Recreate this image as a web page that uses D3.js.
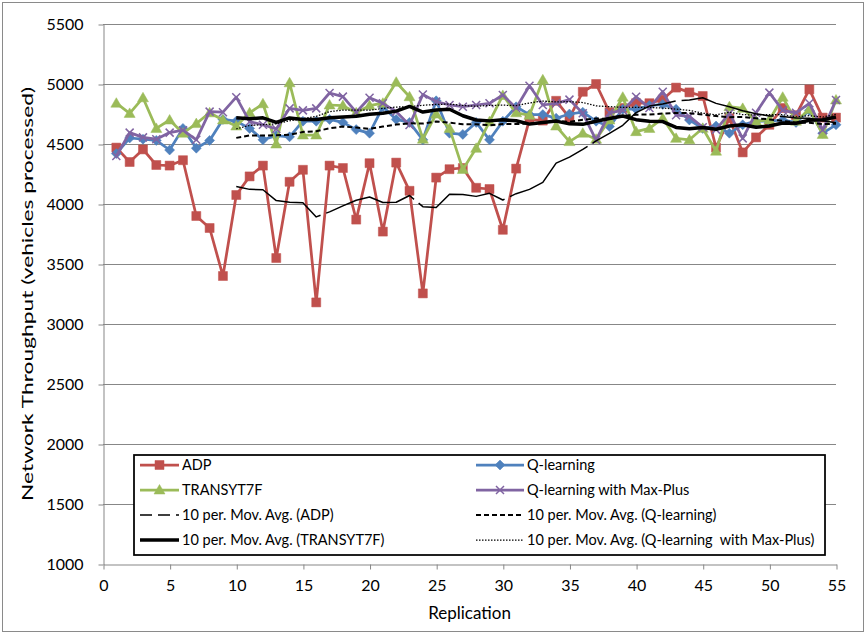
<!DOCTYPE html>
<html>
<head>
<meta charset="utf-8">
<script src="https://cdn.jsdelivr.net/npm/d3@7"></script>
<style>
    body { margin: 0; background: #fff; }
    text { font-family: Lato, "Open Sans", sans-serif; fill: #000; }
</style>
</head>
<body>
<div class="chart"></div>
<script>
// replication number on the x axis
const replication = [1, 2, 3, 4, 5, 6, 7, 8, 9, 10, 11, 12, 13, 14, 15, 16, 17, 18, 19, 20,
    21, 22, 23, 24, 25, 26, 27, 28, 29, 30, 31, 32, 33, 34, 35, 36, 37, 38, 39, 40,
    41, 42, 43, 44, 45, 46, 47, 48, 49, 50, 51, 52, 53, 54, 55]

const adp = [4470, 4350, 4455, 4325, 4320, 4365, 3900, 3800, 3400, 4075,
    4230, 4320, 3550, 4185, 4285, 3180, 4320, 4300, 3870, 4340,
    3770, 4345, 4110, 3255, 4220, 4290, 4300, 4135, 4125, 3785,
    4295, 4705, 4695, 4860, 4720, 4935, 5000, 4765, 4800, 4840,
    4840, 4870, 4970, 4930, 4900, 4470, 4715, 4430, 4555, 4660,
    4800, 4740, 4955, 4720, 4720]

const qLearning = [4420, 4550, 4540, 4530, 4450, 4630, 4465, 4530, 4705, 4690,
    4630, 4535, 4570, 4560, 4690, 4690, 4705, 4680, 4620, 4590,
    4810, 4705, 4680, 4535, 4860, 4590, 4580, 4680, 4535, 4690,
    4810, 4745, 4745, 4715, 4750, 4765, 4690, 4645, 4790, 4790,
    4820, 4830, 4790, 4700, 4630, 4650, 4590, 4660, 4690, 4690,
    4700, 4680, 4780, 4590, 4660]

const transyt = [4840, 4755, 4885, 4630, 4700, 4590, 4670, 4760, 4700, 4650,
    4760, 4835, 4500, 5010, 4575, 4575, 4825, 4820, 4760, 4820,
    4840, 5015, 4894, 4540, 4750, 4630, 4288, 4464, 4686, 4905,
    4760, 4740, 5035, 4650, 4520, 4590, 4540, 4700, 4890, 4603,
    4630, 4714, 4547, 4535, 4631, 4440, 4811, 4797, 4690, 4700,
    4890, 4690, 4790, 4580, 4867]

const maxPlus = [4400, 4595, 4555, 4540, 4595, 4615, 4535, 4770, 4765, 4890,
    4686, 4660, 4625, 4797, 4780, 4797, 4925, 4895, 4765, 4885,
    4839, 4770, 4658, 4912, 4853, 4825, 4811, 4825, 4839, 4908,
    4800, 4985, 4825, 4839, 4870, 4756, 4533, 4760, 4780, 4894,
    4800, 4936, 4740, 4730, 4640, 4620, 4756, 4547, 4760, 4928,
    4780, 4760, 4839, 4617, 4867]

const xTicks = [0, 5, 10, 15, 20, 25, 30, 35, 40, 45, 50, 55]
const yTicks = [1000, 1500, 2000, 2500, 3000, 3500, 4000, 4500, 5000, 5500]

const seriesNames = ['ADP', 'Q-learning', 'TRANSYT7F', 'Q-learning with Max-Plus']
const maNames = ['10 per. Mov. Avg. (ADP)', '10 per. Mov. Avg. (Q-learning)',
    '10 per. Mov. Avg. (TRANSYT7F)', '10 per. Mov. Avg. (Q-learning  with Max-Plus)']

var W = 866, H = 634
var plot = { left: 103, right: 836, top: 24, bottom: 564 }

let svg = d3.select('.chart')
    .append('svg')
    .attr('width', W)
    .attr('height', H)

// chart area frame
svg.append('rect')
    .attr('x', 2.5).attr('y', 2.5)
    .attr('width', W - 5).attr('height', H - 5)
    .attr('fill', '#fff')
    .attr('stroke', '#8a8a8a')

var xScale = d3.scaleLinear().domain([0, 55]).range([plot.left, plot.right])
var yScale = d3.scaleLinear().domain([1000, 5500]).range([plot.bottom, plot.top])

// gridlines
svg.append('g')
    .selectAll('line')
    .data(yTicks.slice(1))
    .enter()
    .append('line')
    .attr('x1', plot.left).attr('x2', plot.right)
    .attr('y1', d => yScale(d) + 0.5).attr('y2', d => yScale(d) + 0.5)
    .attr('stroke', '#878787')

// axes
let yAxis = svg.append('g')
    .attr('transform', `translate(${plot.left + 0.5},0.5)`)
    .call(d3.axisLeft(yScale).tickValues(yTicks).tickFormat(d3.format('d'))
        .tickSize(5).tickPadding(15).tickSizeOuter(0))
let xAxis = svg.append('g')
    .attr('transform', `translate(0.5,${plot.bottom + 0.5})`)
    .call(d3.axisBottom(xScale).tickValues(xTicks).tickSize(5).tickPadding(10).tickSizeOuter(0))

;[yAxis, xAxis].forEach(ax => {
    ax.select('.domain').attr('stroke', '#878787')
    ax.selectAll('.tick line').attr('stroke', '#878787')
    ax.selectAll('text').style('font-size', '16px').attr('fill', '#000')
})

svg.append('text')
    .attr('x', (plot.left + plot.right) / 2)
    .attr('y', 619)
    .attr('text-anchor', 'middle')
    .style('font-size', '17px')
    .text('Replication')

svg.append('text')
    .attr('transform', 'translate(33,294) rotate(-90)')
    .attr('text-anchor', 'middle')
    .attr('textLength', 414)
    .attr('lengthAdjust', 'spacingAndGlyphs')
    .style('font-size', '15px')
    .text('Network Throughput (vehicles processed)')

// series
const colors = ['#C0504D', '#4F81BD', '#9BBB59', '#8064A2']
const markers = ['square', 'diamond', 'triangle', 'x']
const values = [adp, qLearning, transyt, maxPlus]

function markerPath(type) {
    if (type === 'square') return 'M-4.5,-4.5H4.5V4.5H-4.5Z'
    if (type === 'diamond') return 'M0,-5L5,0L0,5L-5,0Z'
    if (type === 'triangle') return 'M0,-5.5L5.5,4L-5.5,4Z'
    return 'M-4,-4L4,4M-4,4L4,-4'
}

let line = d3.line()
    .x(d => xScale(d[0]))
    .y(d => yScale(d[1]))

values.forEach((vals, s) => {
    let pts = replication.map((r, i) => [r, vals[i]])
    let g = svg.append('g')
    g.append('path')
        .attr('d', line(pts))
        .attr('fill', 'none')
        .attr('stroke', colors[s])
        .attr('stroke-width', 2.75)
        .attr('stroke-linejoin', 'round')
    g.selectAll('path.mk')
        .data(pts)
        .enter()
        .append('path')
        .attr('class', 'mk')
        .attr('transform', d => `translate(${xScale(d[0])},${yScale(d[1])})`)
        .attr('d', markerPath(markers[s]))
        .attr('fill', markers[s] === 'x' ? 'none' : colors[s])
        .attr('stroke', colors[s])
        .attr('stroke-width', markers[s] === 'x' ? 1.5 : 0.5)
})

// 10 period moving average trendlines
const maStyles = [
    { width: 1.5, dash: '95,6', legendDash: '12,6' },
    { width: 2, dash: '5,3', legendDash: '5,3' },
    { width: 3.5, dash: null, legendDash: null },
    { width: 1.25, dash: '1.5,1.5', legendDash: '1.5,1.5' }
]

values.forEach((vals, s) => {
    let pts = replication.slice(9).map((r, k) => [r, d3.mean(vals.slice(k, k + 10))])
    svg.append('path')
        .attr('d', line(pts))
        .attr('fill', 'none')
        .attr('stroke', '#000')
        .attr('stroke-width', maStyles[s].width)
        .attr('stroke-dasharray', maStyles[s].dash)
        .attr('stroke-linejoin', 'round')
})

// legend
let legend = svg.append('g')
legend.append('rect')
    .attr('x', 134).attr('y', 455)
    .attr('width', 691).attr('height', 100)
    .attr('fill', '#fff')
    .attr('stroke', '#000')
    .attr('stroke-width', 1.75)

const legendItems = seriesNames.map((n, s) => ({ name: n, s: s, ma: false }))
    .concat(maNames.map((n, s) => ({ name: n, s: s, ma: true })))

legendItems.forEach((d, i) => {
    let col = i % 2, row = Math.floor(i / 2)
    let x0 = col ? 476 : 140, x1 = col ? 524 : 179
    let yy = 465 + row * 25
    let g = legend.append('g')
    g.append('line')
        .attr('x1', x0).attr('x2', x1)
        .attr('y1', yy).attr('y2', yy)
        .attr('stroke', d.ma ? '#000' : colors[d.s])
        .attr('stroke-width', d.ma ? maStyles[d.s].width : 2.75)
        .attr('stroke-dasharray', d.ma ? maStyles[d.s].legendDash : null)
    if (!d.ma) {
        g.append('path')
            .attr('transform', `translate(${(x0 + x1) / 2},${yy})`)
            .attr('d', markerPath(markers[d.s]))
            .attr('fill', markers[d.s] === 'x' ? 'none' : colors[d.s])
            .attr('stroke', colors[d.s])
            .attr('stroke-width', markers[d.s] === 'x' ? 1.5 : 0.5)
    }
    g.append('text')
        .attr('x', x1 + 3)
        .attr('y', yy)
        .attr('dy', '0.35em')
        .style('font-size', '14.5px')
        .style('white-space', 'pre')
        .text(d.name)
})
</script>
</body>
</html>
